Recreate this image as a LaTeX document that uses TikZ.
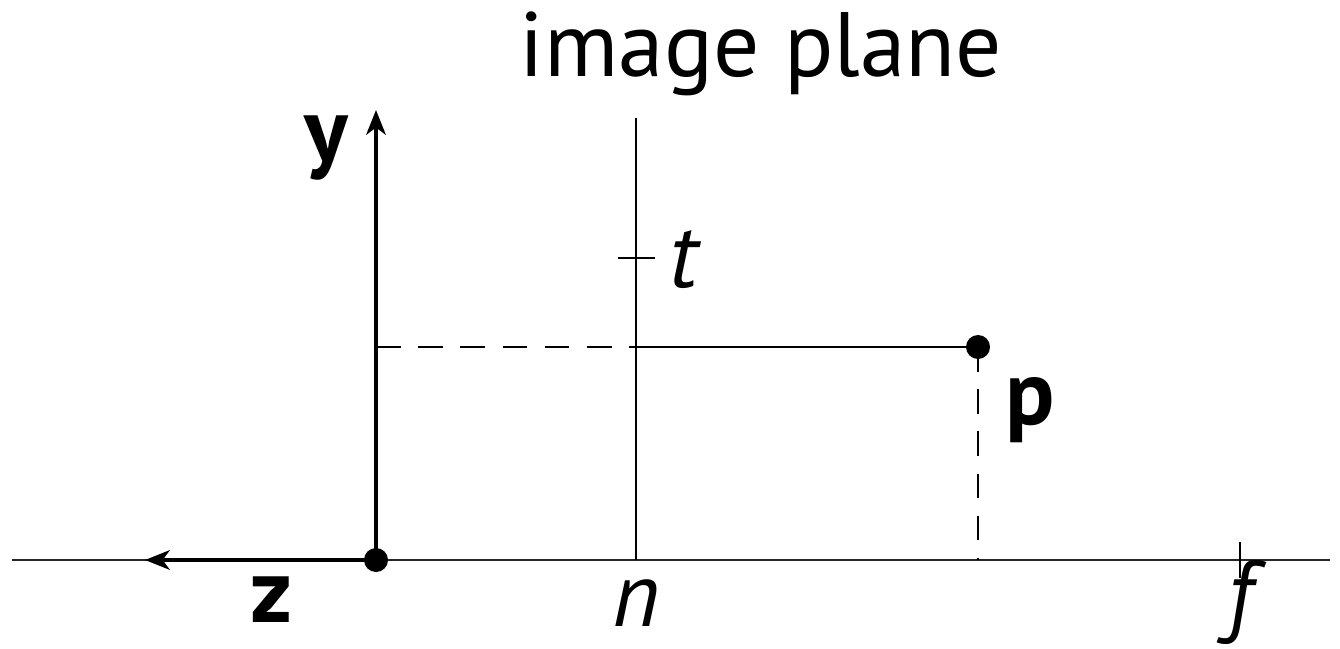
\documentclass[tikz,border=0pt]{standalone}
\usepackage{fontspec}
\setmainfont{PT Sans}
\usetikzlibrary{arrows.meta,positioning}

\begin{document}
\begin{tikzpicture}[x=0.01cm,y=-0.01cm,
  axis/.style={line width=1.2pt,-{Stealth[length=7pt,width=5.5pt,inset=2pt]}},
  thinline/.style={line width=0.6pt},
  dashline/.style={thinline,dash pattern=on 7pt off 5pt},
  lbl/.style={font=\fontsize{26}{31}\selectfont,inner sep=0pt}]
  \useasboundingbox (0,0) rectangle (1340,649);
  % points
  \coordinate (o) at (376,560);
  \coordinate (zend) at (145,560);
  \coordinate (yend) at (376,110);
  \coordinate (ax0) at (12,560);
  \coordinate (ax1) at (1330,560);
  \coordinate (ptop) at (636,118);
  \coordinate (pbot) at (636,560);
  \coordinate (py) at (376,347);
  \coordinate (pn) at (636,347);
  \coordinate (p) at (978,347);
  \coordinate (pz) at (978,560);
  \coordinate (t0) at (618,258);
  \coordinate (t1) at (655,258);
  \coordinate (f0) at (1240,542);
  \coordinate (f1) at (1240,578);
  % axes
  \draw[thinline,black!85] (ax0) -- (ax1);
  \draw[axis] (o) -- (zend);
  \draw[axis] (o) -- (yend);
  % image plane
  \draw[thinline] (pbot) -- (ptop);
  \draw[thinline] (t0) -- (t1);
  \draw[thinline] (f0) -- (f1);
  % point p and projections
  \draw[dashline] (py) -- (pn);
  \draw[thinline] (pn) -- (p);
  \draw[dashline] (p) -- (pz);
  \fill (o) circle (12);
  \fill (p) circle (12);
  % labels
  \node[lbl] (title) at (761,54) {image plane};
  \node[lbl] (ylbl) at (326,148) {\bfseries y};
  \node[lbl] (zlbl) at (271,600) {\bfseries z};
  \node[lbl] (tlbl) at (684,260) {\itshape t};
  \node[lbl] (plbl) at (1030,410) {\bfseries p};
  \node[lbl] (nlbl) at (636,603) {\itshape n};
  \node[lbl] (flbl) at (1240,602) {\itshape f};
\end{tikzpicture}
\end{document}
